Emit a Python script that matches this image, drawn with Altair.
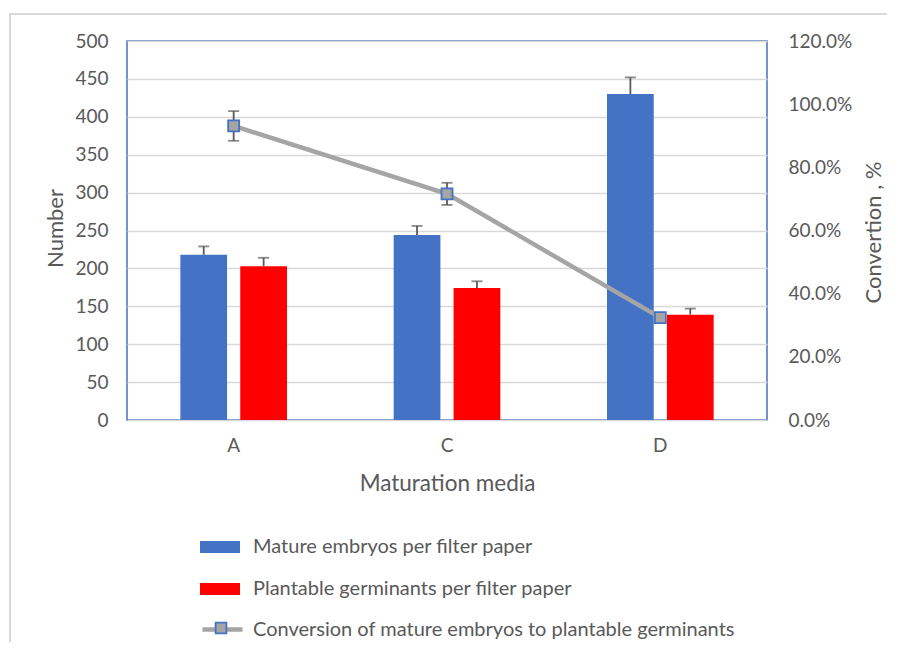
import altair as alt
import pandas as pd

media = ["A", "C", "D"]
mature = [218, 244, 430]
mature_err = [11, 12, 22]
plantable = [203, 174, 139]
plantable_err = [11, 9, 8]
conversion = [0.931, 0.716, 0.324]
conversion_err = [0.047, 0.035, 0.0]

s1 = "Mature embryos per filter paper"
s2 = "Plantable germinants per filter paper"
s3 = "Conversion of mature embryos to plantable germinants"
marker_key = "marker"

BLUE = "#4472C4"
RED = "#FF0000"
LGREY = "#A5A5A5"
GREY = "#595959"
FONT = "Lato"
LFS = 20

bars_df = pd.DataFrame({
    "media": media * 2,
    "series": [s1] * 3 + [s2] * 3,
    "value": mature + plantable,
    "err": mature_err + plantable_err,
})
bars_df["top"] = bars_df["value"] + bars_df["err"]

line_df = pd.DataFrame({
    "media": media,
    "line_series": [s3] * 3,
    "marker_series": [marker_key] * 3,
    "pct": conversion,
    "err": conversion_err,
})
line_df["lo"] = line_df["pct"] - line_df["err"]
line_df["hi"] = line_df["pct"] + line_df["err"]

xenc = alt.X(
    "media:N",
    scale=alt.Scale(domain=media, paddingInner=0.5, paddingOuter=0.25),
    axis=alt.Axis(title="Maturation media", labelAngle=0, labelPadding=16,
                  titleY=63, titleBaseline="middle", titleFontSize=22.5),
)
xoff = alt.XOffset("series:N", scale=alt.Scale(domain=[s1, s2], paddingInner=0.22, paddingOuter=0))

yleft_scale = alt.Scale(domain=[0, 500])
yleft_axis = alt.Axis(
    title="Number", values=list(range(0, 501, 50)), grid=True, gridColor="#D9D9D9",
    gridWidth=1.5, labelPadding=19, labelOverlap=False, titleAngle=270,
    titleBaseline="middle", titleX=-72, titleY=187, titleFontSize=22,
)

bars = alt.Chart(bars_df).mark_bar().encode(
    x=xenc,
    xOffset=xoff,
    y=alt.Y("value:Q", scale=yleft_scale, axis=yleft_axis),
    color=alt.Color(
        "series:N",
        scale=alt.Scale(domain=[s1, s2], range=[BLUE, RED]),
        legend=alt.Legend(
            title=None, orient="none", legendX=73, legendY=486, direction="vertical",
            symbolType="M-1,-0.3H1V0.3H-1Z", symbolSize=1600, symbolStrokeWidth=0,
            labelFont=FONT, labelFontSize=LFS, labelColor=GREY, labelOffset=13,
            rowPadding=12, padding=0, labelLimit=600,
        ),
    ),
)

bar_err = alt.Chart(bars_df).mark_rule(color=GREY, strokeWidth=1.8).encode(
    x=xenc, xOffset=xoff,
    y=alt.Y("value:Q", scale=yleft_scale, axis=yleft_axis), y2="top:Q",
)
bar_cap = alt.Chart(bars_df).mark_tick(color=GREY, size=11, thickness=1.8).encode(
    x=xenc, xOffset=xoff, y=alt.Y("top:Q", scale=yleft_scale, axis=yleft_axis),
)

frame = alt.Chart(pd.DataFrame({"k": [0]})).mark_rect(
    filled=False, stroke="#D9D9D9", strokeWidth=2
).encode(
    x=alt.value(-117), x2=alt.value(1000), y=alt.value(-27), y2=alt.value(800)
)

left = alt.layer(frame, bars, bar_err, bar_cap)

yright_scale = alt.Scale(domain=[0, 1.2])
yright_axis = alt.Axis(
    title="Convertion , %", orient="right", format=".1%",
    values=[0, 0.2, 0.4, 0.6, 0.8, 1.0, 1.2], grid=False, labelPadding=21,
    labelOverlap=False, titleAngle=270, titleBaseline="middle", titleX=106,
    titleY=191, titleFontSize=22,
)

line = alt.Chart(line_df).mark_line(strokeWidth=4.5).encode(
    x=xenc,
    y=alt.Y("pct:Q", scale=yright_scale, axis=yright_axis),
    stroke=alt.Stroke(
        "line_series:N",
        scale=alt.Scale(domain=[s3], range=[LGREY]),
        legend=alt.Legend(
            title=None, orient="none", legendX=73, legendY=566,
            symbolType="M-1,0H1", symbolSize=1600, symbolStrokeWidth=4.5,
            labelFont=FONT, labelFontSize=LFS, labelColor=GREY, labelOffset=8,
            padding=0, labelLimit=700,
        ),
    ),
)

line_err = alt.Chart(line_df).mark_rule(color=GREY, strokeWidth=1.8).encode(
    x=xenc, y=alt.Y("lo:Q", scale=yright_scale, axis=yright_axis), y2="hi:Q",
)
line_cap_hi = alt.Chart(line_df).mark_tick(color=GREY, size=11, thickness=1.8).encode(
    x=xenc, y=alt.Y("hi:Q", scale=yright_scale, axis=yright_axis),
)
line_cap_lo = alt.Chart(line_df).mark_tick(color=GREY, size=11, thickness=1.8).encode(
    x=xenc, y=alt.Y("lo:Q", scale=yright_scale, axis=yright_axis),
)

points = alt.Chart(line_df).mark_point(
    shape="square", size=121, filled=True, stroke=BLUE, strokeWidth=1.8, opacity=1
).encode(
    x=xenc,
    y=alt.Y("pct:Q", scale=yright_scale, axis=yright_axis),
    fill=alt.Fill(
        "marker_series:N",
        scale=alt.Scale(domain=[marker_key], range=[LGREY]),
        legend=alt.Legend(
            title=None, orient="none", legendX=73, legendY=566,
            symbolType="M-0.27,-0.27H0.27V0.27H-0.27Z", symbolSize=1600,
            symbolStrokeColor=BLUE, symbolStrokeWidth=1.8, symbolFillColor=LGREY,
            labelExpr="''", labelFont=FONT, labelFontSize=LFS, labelOffset=13,
            padding=0,
        ),
    ),
)

right = alt.layer(line, line_err, line_cap_hi, line_cap_lo, points)

chart = alt.layer(left, right).resolve_scale(
    y="independent", color="independent", stroke="independent", fill="independent"
).properties(
    width=640, height=379,
    autosize=alt.AutoSizeParams(type="none"),
    padding={"left": 119, "top": 33, "right": 120, "bottom": 222},
    background="white",
).configure_view(
    stroke=BLUE, strokeWidth=1.5
).configure_axis(
    labelFont=FONT, titleFont=FONT, labelColor=GREY, titleColor=GREY,
    labelFontSize=19, titleFontSize=21, titleFontWeight="normal",
    ticks=False, domain=False,
)

chart.save("out.html", embed_options={"renderer": "svg", "actions": False})
